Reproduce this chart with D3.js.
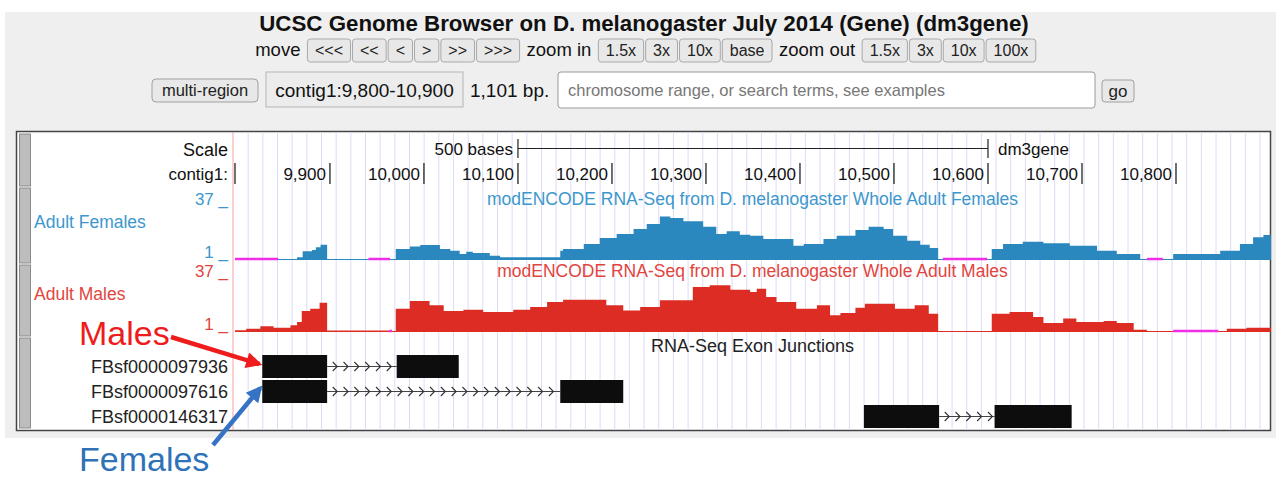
<!DOCTYPE html>
<html><head><meta charset="utf-8">
<script src="https://cdn.jsdelivr.net/npm/d3@7"></script>
<style>
body{margin:0;background:#fff}
svg{display:block}
text{font-family:"Liberation Sans",Arial,Helvetica,sans-serif}
</style>
</head><body>
<svg id="c" width="1276" height="479"></svg>
<script>
// ---- region and ruler ----
const regionStart = 9799, regionEnd = 10900;
const rulerTicks = [9900, 10000, 10100, 10200, 10300, 10400, 10500, 10600, 10700, 10800];
const scaleBarRange = [10100, 10600];
const guideStart = 9813, guideStep = 15.6;

// ---- coverage, Adult Females (step starts in bp, read depth) ----
const femalePos = [9799,9845,9865,9871,9881,9885,9890,9897,9941,9964,9970,9985,9996,10017,10028,10038,10045,10052,10070,10081,
  10145,10148,10170,10187,10205,10223,10237,10251,10262,10276,10297,10311,10322,10336,10347,10361,10393,10404,10425,10439,
  10459,10473,10489,10499,10514,10528,10538,10547,10552,10599,10604,10616,10637,10659,10687,10716,10737,10762,10769,10786,
  10797,10847,10868,10882,10893];
const femaleVal = [0,1,2.7,6.6,7.4,9.2,10.8,1,0,1,8.1,9.6,10.6,8.1,7.0,4.9,6.3,5.5,3.8,2.7,
  7.0,8.1,11.3,15.1,17.7,20.9,24.1,29.0,28.0,25.9,22.4,17.7,19.5,17.3,16.6,14.5,10.2,11.3,14.5,16.6,
  20.3,22.4,20.9,16.6,13.4,10.8,8.7,1,0,1,8.1,11.3,12.8,11.7,10.2,7.0,4.9,1,0,1,
  4.9,7.0,11.3,15.6,17.0];

// ---- coverage, Adult Males ----
const malePos = [9799,9811,9826,9840,9858,9865,9870,9879,9889,9897,9963,9966,9970,9985,10006,10021,10042,10063,10095,10113,
  10131,10148,10194,10212,10230,10251,10286,10304,10326,10347,10354,10364,10375,10396,10418,10432,10443,10459,10469,10501,
  10522,10537,10547,10604,10623,10648,10659,10680,10694,10723,10737,10755,10769,10797,10845,10854,10875];
const maleVal = [2.1,3.1,4.7,3.8,5.3,7.4,14.5,16.0,19.8,2.0,0,1,16.0,20.9,18.2,14.5,15.3,13.9,15.3,17.1,
  20.3,21.8,18.2,14.9,17.1,21.4,29.9,31.0,28.2,26.7,28.8,23.5,20.3,16.0,18.2,11.7,13.2,16.6,19.2,16.0,
  18.2,12.8,1,12.8,13.9,10.6,6.8,9.6,7.4,8.1,6.8,2.5,1,0,1,3.1,3.8];

// ---- exon junction features ----
const junctionNames = ["FBsf0000097936", "FBsf0000097616", "FBsf0000146317"];
const junctionExons = [
  [[9828, 9897], [9971, 10037]],
  [[9828, 9897], [10145, 10212]],
  [[10468, 10548], [10607, 10689]]
];
const chevronStep = 11.5;

// ---- header controls ----
const navItems = [["t","move"],["b","<<<"],["b","<<"],["b","<"],["b",">"],["b",">>"],["b",">>>"],
  ["t","zoom in"],["b","1.5x"],["b","3x"],["b","10x"],["b","base"],
  ["t","zoom out"],["b","1.5x"],["b","3x"],["b","10x"],["b","100x"]];

const svg = d3.select("#c");

// page panel
svg.append("rect").attr("x",5).attr("y",12).attr("width",1271).attr("height",426).attr("fill","#efefef");

// title
svg.append("text").attr("x",644).attr("y",31).attr("text-anchor","middle")
  .attr("font-size",22.3).attr("font-weight","bold").attr("fill","#111")
  .text("UCSC Genome Browser on D. melanogaster July 2014 (Gene) (dm3gene)");

// navigation row, laid out left to right and centred
(function(){
  const g = svg.append("g");
  let x = 0; let prev = null;
  navItems.forEach(([kind,label])=>{
    const gap = prev===null ? 0 : (prev==="b" && kind==="b" ? 2 : 7);
    x += gap;
    if(kind==="t"){
      const t = g.append("text").attr("x",x).attr("y",56).attr("font-size",18.5).attr("fill","#111").text(label);
      x += t.node().getComputedTextLength();
    } else {
      const t = g.append("text").attr("y",55.5).attr("font-size",16).attr("fill","#222").attr("text-anchor","middle").text(label);
      const w = t.node().getComputedTextLength()+15;
      g.insert("rect","text").attr("x",x).attr("y",39).attr("width",w).attr("height",23).attr("rx",3)
        .attr("fill","#e8e8e8").attr("stroke","#a9a9a9");
      t.attr("x",x+w/2);
      x += w;
    }
    prev = kind;
  });
  g.attr("transform",`translate(${645.5 - x/2},0)`);
})();

// location row
(function(){
  const g = svg.append("g");
  let x = 152;
  let t = g.append("text").attr("y",96).attr("font-size",16.5).attr("fill","#222").attr("text-anchor","middle").text("multi-region");
  let w = 106;
  g.insert("rect","text").attr("x",x).attr("y",79).attr("width",w).attr("height",23).attr("rx",4).attr("fill","#e8e8e8").attr("stroke","#a0a0a0");
  t.attr("x",x+w/2); x += w+8;
  t = g.append("text").attr("y",96.5).attr("font-size",19).attr("fill","#111").attr("text-anchor","middle").text("contig1:9,800-10,900");
  w = 197;
  g.insert("rect","text").attr("x",x).attr("y",72).attr("width",w).attr("height",35).attr("fill","#ececec").attr("stroke","#b5b5b5");
  t.attr("x",x+w/2); x += w+7;
  t = g.append("text").attr("x",x).attr("y",96.5).attr("font-size",19).attr("fill","#111").text("1,101 bp.");
  x += 88;
  g.append("rect").attr("x",x).attr("y",72).attr("width",537).attr("height",36).attr("rx",3).attr("fill","#fff").attr("stroke","#9a9a9a");
  g.append("text").attr("x",x+10).attr("y",96).attr("font-size",16.5).attr("fill","#777").text("chromosome range, or search terms, see examples");
  x += 537+7;
  t = g.append("text").attr("y",96.5).attr("font-size",17).attr("fill","#222").attr("text-anchor","middle").text("go");
  w = 32;
  g.insert("rect","text").attr("x",x).attr("y",80).attr("width",w).attr("height",22).attr("rx",3).attr("fill","#e8e8e8").attr("stroke","#a0a0a0");
  t.attr("x",x+w/2);
})();

// ---- browser image ----
const x = d3.scaleLinear().domain([regionStart, regionEnd]).range([235, 1270]);
const boxTop = 131, boxBottom = 430;

svg.append("rect").attr("x",16.5).attr("y",boxTop+0.5).attr("width",1254).attr("height",boxBottom-boxTop)
  .attr("fill","#fff").attr("stroke","#444").attr("stroke-width",1.5);

// side buttons for each track
[[134,186],[188,263],[265,336],[338,428]].forEach(([a,b])=>{
  svg.append("rect").attr("x",19.5).attr("y",a).attr("width",11).attr("height",b-a)
    .attr("fill","#bdbdbd").attr("stroke","#8a8a8a").attr("stroke-width",1);
});

// guidelines
const guides = d3.range(guideStart, regionEnd, guideStep);
svg.append("g").selectAll("line").data(guides).join("line")
  .attr("x1",d=>x(d)).attr("x2",d=>x(d)).attr("y1",boxTop+1).attr("y2",boxBottom)
  .attr("stroke","#dcdcf6").attr("stroke-width",1);

// left edge of the data area
svg.append("line").attr("x1",x(regionStart)-2).attr("x2",x(regionStart)-2).attr("y1",boxTop+1).attr("y2",boxBottom)
  .attr("stroke","#f3a3a3").attr("stroke-width",1);

// ---- base position ruler ----
const labelRight = 228;
svg.append("text").attr("x",labelRight).attr("y",156).attr("text-anchor","end").attr("font-size",18).attr("fill","#111").text("Scale");
svg.append("text").attr("x",x(scaleBarRange[0])-5).attr("y",155).attr("text-anchor","end").attr("font-size",17).attr("fill","#111").text("500 bases");
svg.append("line").attr("x1",x(scaleBarRange[0])).attr("x2",x(scaleBarRange[1])).attr("y1",148.5).attr("y2",148.5).attr("stroke","#222").attr("stroke-width",1.2);
scaleBarRange.forEach(p=>svg.append("line").attr("x1",x(p)).attr("x2",x(p)).attr("y1",139).attr("y2",158).attr("stroke","#222").attr("stroke-width",1.2));
svg.append("text").attr("x",x(scaleBarRange[1])+10).attr("y",155).attr("font-size",17).attr("fill","#111").text("dm3gene");

svg.append("text").attr("x",labelRight).attr("y",180).attr("text-anchor","end").attr("font-size",17).attr("fill","#111").text("contig1:");
[regionStart].concat(rulerTicks).forEach(p=>{
  svg.append("line").attr("x1",x(p)).attr("x2",x(p)).attr("y1",163).attr("y2",184).attr("stroke","#222").attr("stroke-width",1.3);
});
svg.append("g").selectAll("text").data(rulerTicks).join("text")
  .attr("x",d=>x(d)-4).attr("y",180).attr("text-anchor","end").attr("font-size",17).attr("fill","#111")
  .text(d=>d3.format(",")(d));

// ---- coverage tracks ----
function coverageTrack(pos, val, opt){
  const y = d3.scaleLinear().domain([1,37]).range([opt.base, opt.base-56]).clamp(true);
  const pts = pos.map((p,i)=>[p, val[i]]);
  pts.push([regionEnd+1, val[val.length-1]]);
  svg.append("line").attr("x1",x(regionStart)).attr("x2",x(regionEnd+1)).attr("y1",opt.base-0.5).attr("y2",opt.base-0.5)
    .attr("stroke",opt.color).attr("stroke-width",1);
  svg.append("path").datum(pts)
    .attr("d", d3.area().curve(d3.curveStepAfter).x(d=>x(d[0])).y0(opt.base).y1(d=>y(Math.max(1,d[1]))))
    .attr("fill",opt.color);
  // positions below the view limit
  pts.forEach((d,i)=>{
    if(i<pts.length-1 && d[1]===0){
      svg.append("line").attr("x1",x(d[0])).attr("x2",x(pts[i+1][0])).attr("y1",opt.base-1).attr("y2",opt.base-1)
        .attr("stroke","#f02ee8").attr("stroke-width",2.5);
    }
  });
  svg.append("text").attr("x",labelRight).attr("y",opt.base-56+1).attr("text-anchor","end").attr("font-size",17).attr("fill",opt.text).text("37 _");
  svg.append("text").attr("x",labelRight).attr("y",opt.base-2).attr("text-anchor","end").attr("font-size",17).attr("fill",opt.text).text("1 _");
  svg.append("text").attr("x",34).attr("y",opt.base-32).attr("font-size",17.5).attr("fill",opt.text).text(opt.label);
  svg.append("text").attr("x",(x(regionStart)+x(regionEnd))/2).attr("y",opt.base-55).attr("text-anchor","middle")
    .attr("font-size",17.5).attr("fill",opt.text).text(opt.title);
}
coverageTrack(femalePos, femaleVal, {base:260, color:"#2a88bf", text:"#3d97cc", label:"Adult Females",
  title:"modENCODE RNA-Seq from D. melanogaster Whole Adult Females"});
coverageTrack(malePos, maleVal, {base:332, color:"#dd2c24", text:"#e2453d", label:"Adult Males",
  title:"modENCODE RNA-Seq from D. melanogaster Whole Adult Males"});

// ---- exon junctions ----
svg.append("text").attr("x",(x(regionStart)+x(regionEnd))/2).attr("y",352).attr("text-anchor","middle")
  .attr("font-size",18).attr("fill","#222").text("RNA-Seq Exon Junctions");
const rowTop = i => 355 + i*25, rowH = 23;
junctionNames.forEach((name,i)=>{
  const yt = rowTop(i), ym = yt + rowH/2;
  svg.append("text").attr("x",labelRight).attr("y",ym+6).attr("text-anchor","end").attr("font-size",18).attr("fill","#222").text(name);
  const ex = junctionExons[i];
  const a = ex[0][1], b = ex[1][0];
  svg.append("line").attr("x1",x(a)).attr("x2",x(b)).attr("y1",ym).attr("y2",ym).attr("stroke","#444").attr("stroke-width",1.2);
  d3.range(a + chevronStep*0.75, b - 2, chevronStep).forEach(c=>{
    const cx = x(c);
    svg.append("path").attr("d",`M${cx-2.5},${ym-4.5}L${cx+2},${ym}L${cx-2.5},${ym+4.5}`)
      .attr("fill","none").attr("stroke","#333").attr("stroke-width",1.1);
  });
  ex.forEach(([s,e])=>{
    svg.append("rect").attr("x",x(s)).attr("y",yt).attr("width",x(e)-x(s)).attr("height",rowH).attr("fill","#0d0d0d");
  });
});

// ---- callouts ----
const defs = svg.append("defs");
function arrowHead(id, color){
  defs.append("marker").attr("id",id).attr("viewBox","0 0 10 10").attr("refX",8).attr("refY",5)
    .attr("markerWidth",4.2).attr("markerHeight",3.6).attr("orient","auto").attr("markerUnits","strokeWidth")
    .append("path").attr("d","M0,0L10,5L0,10Z").attr("fill",color);
}
arrowHead("headRed","#ee1c1c");
arrowHead("headBlue","#3574c4");
const m = junctionExons[0][0][0], f = junctionExons[1][0][0];
svg.append("text").attr("x",79).attr("y",345).attr("font-size",34).attr("fill","#ee1c1c").text("Males");
svg.append("line").attr("x1",171).attr("y1",337).attr("x2",x(m)-3).attr("y2",rowTop(0)+9)
  .attr("stroke","#ee1c1c").attr("stroke-width",4.5).attr("marker-end","url(#headRed)");
svg.append("text").attr("x",79).attr("y",471).attr("font-size",34).attr("fill","#2e72b8").text("Females");
svg.append("line").attr("x1",213).attr("y1",445).attr("x2",x(f)-2).attr("y2",rowTop(1)+8)
  .attr("stroke","#3574c4").attr("stroke-width",4.5).attr("marker-end","url(#headBlue)");
</script>
</body></html>
